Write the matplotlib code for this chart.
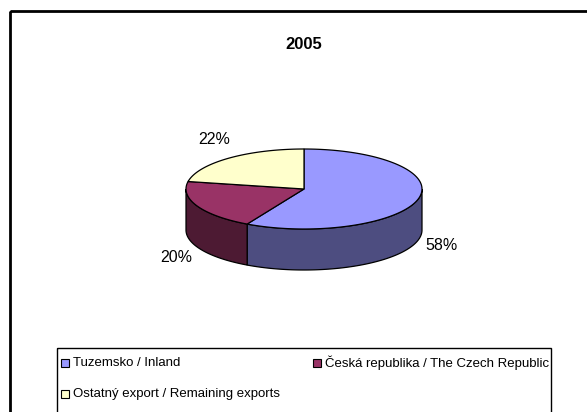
import numpy as np
import matplotlib.pyplot as plt
from matplotlib.patches import Polygon, Rectangle

plt.rcParams['font.family'] = ['Liberation Sans', 'DejaVu Sans']

title = "2005"
labels = ["Tuzemsko / Inland",
          "Česká republika / The Czech Republic",
          "Ostatný export / Remaining exports"]
shares = [58, 20, 22]
top_colors = ["#9999FF", "#993366", "#FFFFCC"]
side_colors = ["#4D4D80", "#4D1A33", "#80806A"]

W, H = 587, 412
fig = plt.figure(figsize=(W / 100, H / 100), dpi=100)
ax = fig.add_axes([0, 0, 1, 1])
ax.set_xlim(0, W)
ax.set_ylim(H, 0)
ax.axis('off')

# outer chart frame and legend box
ax.add_patch(Rectangle((10, 11), W, H, fill=False, lw=2, ec='black'))
ax.add_patch(Rectangle((57, 348), 494, 100, fill=False, lw=1, ec='black'))

ax.text(304, 44, title, ha='center', va='center', fontsize=12, fontweight='bold')

# 3d pie geometry (pixels)
cx, cy, rx, ry, depth = 304, 189, 118, 40, 41


def arc(a, b, dz=0, n=120):
    t = np.radians(np.linspace(a, b, n))
    return np.column_stack([cx + rx * np.cos(t), cy - ry * np.sin(t) + dz])


# first slice starts at 12 o'clock, going clockwise
fr = np.array(shares) / sum(shares)
edges = 90 - 360 * np.concatenate([[0], np.cumsum(fr)])

# side walls (front half only: angles -180..0)
for i in range(len(shares)):
    lo, hi = edges[i + 1], edges[i]
    a, b = max(lo, -180), min(hi, 0)
    if a >= b:
        continue
    pts = np.vstack([arc(a, b), arc(b, a, depth)])
    ax.add_patch(Polygon(pts, closed=True, fc=side_colors[i], ec='black', lw=0.9))

# top faces
for i in range(len(shares)):
    lo, hi = edges[i + 1], edges[i]
    pts = np.vstack([[cx, cy], arc(hi, lo)])
    ax.add_patch(Polygon(pts, closed=True, fc=top_colors[i], ec='black', lw=0.9))

# percentage labels
for i in range(len(shares)):
    m = np.radians((edges[i] + edges[i + 1]) / 2)
    x = cx + 1.2 * rx * np.cos(m)
    y = cy - 1.6 * ry * np.sin(m)
    if np.sin(m) < 0:
        y += depth
    ax.text(x, y, f"{shares[i]}%", ha='center', va='center', fontsize=11.5)

# legend (two columns)
slots = [(61, 363), (313, 363), (61, 393.5)]
for (lx, ly), lab, col in zip(slots, labels, top_colors):
    ax.add_patch(Rectangle((lx, ly - 4), 8, 8, fc=col, ec='black', lw=0.8))
    ax.text(lx + 12, ly, lab, ha='left', va='center', fontsize=9.5)

fig.savefig('out.png', dpi=100)
